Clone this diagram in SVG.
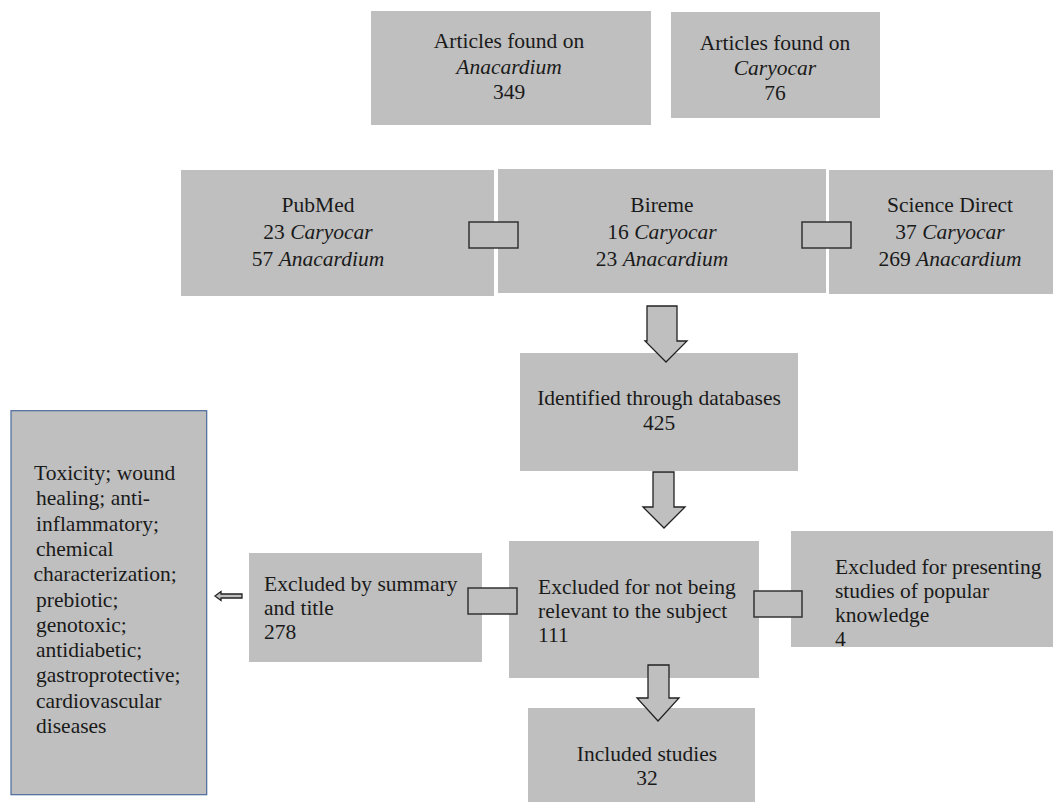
<svg xmlns="http://www.w3.org/2000/svg" width="1055" height="803" viewBox="0 0 1055 803">
<style>
.box{fill:#bfbfbf;stroke:none}
.side{fill:#bfbfbf;stroke:#4a6a9a;stroke-width:1.2}
text{font-family:"Liberation Serif","Times New Roman",serif;font-size:21.5px;fill:#1a1a1a}
.c{text-anchor:middle}
.i{font-style:italic}
.link{fill:#bfbfbf;stroke:#333;stroke-width:1.5}
.arr{fill:#bfbfbf;stroke:#222;stroke-width:1.3;stroke-linejoin:miter}
</style>
<rect width="1055" height="803" fill="#fff"/>
<g id="anacardium">
<rect class="box" x="371" y="11" width="280" height="114"/>
<text class="c" x="509" y="48">Articles found on</text>
<text class="c i" x="509" y="73.5">Anacardium</text>
<text class="c" x="509" y="99">349</text>
</g>
<g id="caryocar">
<rect class="box" x="671" y="12" width="209" height="106"/>
<text class="c" x="775" y="50">Articles found on</text>
<text class="c i" x="775" y="75">Caryocar</text>
<text class="c" x="775" y="100">76</text>
</g>
<g id="pubmed">
<rect class="box" x="181" y="170" width="313" height="126"/>
<text class="c" x="318" y="211.7">PubMed</text>
<text class="c" x="318" y="238.5">23 <tspan class="i">Caryocar</tspan></text>
<text class="c" x="318" y="266">57 <tspan class="i">Anacardium</tspan></text>
</g>
<g id="bireme">
<rect class="box" x="498" y="169" width="328" height="124"/>
<text class="c" x="662" y="211.7">Bireme</text>
<text class="c" x="662" y="238.5">16 <tspan class="i">Caryocar</tspan></text>
<text class="c" x="662" y="266">23 <tspan class="i">Anacardium</tspan></text>
</g>
<g id="sciencedirect">
<rect class="box" x="829" y="170" width="224" height="124"/>
<text class="c" x="950" y="211.7">Science Direct</text>
<text class="c" x="950" y="238.5">37 <tspan class="i">Caryocar</tspan></text>
<text class="c" x="950" y="266">269 <tspan class="i">Anacardium</tspan></text>
</g>
<g id="identified">
<rect class="box" x="520" y="353" width="278" height="118"/>
<text class="c" x="659" y="405">Identified through databases</text>
<text class="c" x="659" y="430">425</text>
</g>
<g id="summary">
<rect class="box" x="249" y="553" width="233" height="109"/>
<text x="264" y="590.7">Excluded by summary</text>
<text x="264" y="615">and title</text>
<text x="264" y="639">278</text>
</g>
<g id="notrelevant">
<rect class="box" x="509" y="541" width="250" height="137"/>
<text x="538" y="594">Excluded for not being</text>
<text x="538" y="618">relevant to the subject</text>
<text x="538" y="642">111</text>
</g>
<g id="popular">
<rect class="box" x="791" y="531" width="262" height="116"/>
<text x="835" y="574">Excluded for presenting</text>
<text x="835" y="598">studies of popular</text>
<text x="835" y="622">knowledge</text>
<text x="835" y="646">4</text>
</g>
<g id="included">
<rect class="box" x="528" y="708" width="227" height="94"/>
<text class="c" x="647" y="760.7">Included studies</text>
<text class="c" x="647" y="785">32</text>
</g>
<g id="topics">
<rect class="side" x="11" y="410.7" width="195.7" height="384"/>
<text x="34" y="480">Toxicity; wound</text>
<text x="36" y="505.3">healing; anti-</text>
<text x="36" y="530.6">inflammatory;</text>
<text x="36" y="555.9">chemical</text>
<text x="33.5" y="581.2">characterization;</text>
<text x="36" y="606.5">prebiotic;</text>
<text x="36" y="631.8">genotoxic;</text>
<text x="36" y="657.1">antidiabetic;</text>
<text x="36" y="682.4">gastroprotective;</text>
<text x="36" y="707.7">cardiovascular</text>
<text x="36" y="733">diseases</text>
</g>
<g id="connectors">
<rect class="link" x="469" y="222" width="49" height="26"/>
<rect class="link" x="802" y="222" width="49" height="26"/>
<rect class="link" x="468" y="588" width="49" height="26"/>
<rect class="link" x="754" y="591" width="48" height="26"/>
<polygon class="arr" points="647,306 677,306 677,341 687,341 666,362 645,341 647,341"/>
<polygon class="arr" points="653,472 674,472 674,507 685,507 664,528 643,507 653,507"/>
<polygon class="arr" points="648,665 669,665 669,698 679,698 658,721 637,698 648,698"/>
<polygon class="arr" stroke-width="1" points="215,596 221,591.5 221,594 242,594 242,598 221,598 221,600.5"/>
</g>
</svg>
